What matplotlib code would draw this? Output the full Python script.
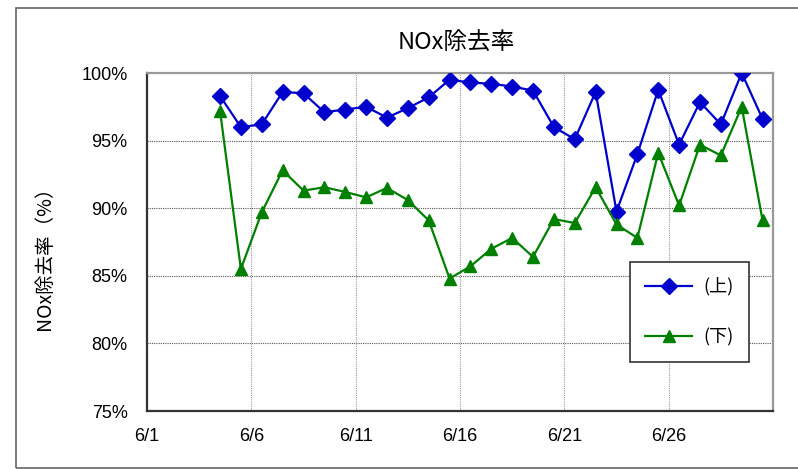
import matplotlib
matplotlib.use("Agg")
import matplotlib.pyplot as plt
from matplotlib.patches import Rectangle
from matplotlib.lines import Line2D

# ---- data ----
days = list(range(4, 31))  # June 4 .. June 30
upper = [98.3, 96.0, 96.2, 98.6, 98.5, 97.1, 97.3, 97.5, 96.7, 97.4, 98.2, 99.5,
         99.3, 99.2, 99.0, 98.7, 96.0, 95.1, 98.6, 89.75, 94.0, 98.75, 94.7, 97.85,
         96.2, 100.0, 96.6]
lower = [97.2, 85.5, 89.7, 92.8, 91.3, 91.55, 91.2, 90.8, 91.5, 90.6, 89.1, 84.8,
         85.7, 87.0, 87.8, 86.4, 89.2, 88.9, 91.55, 88.8, 87.8, 94.1, 90.2, 94.7,
         93.9, 97.5, 89.1]
xtick_labels = ["6/1", "6/6", "6/11", "6/16", "6/21", "6/26", ""]
ytick_vals = [75, 80, 85, 90, 95, 100]
series_names = ["(上)", "(下)"]

cjk = ["Noto Sans CJK JP", "DejaVu Sans"]
narrow = ["Liberation Sans Narrow", "Liberation Sans", "DejaVu Sans"]

W, H = 798, 469
fig = plt.figure(figsize=(W / 100, H / 100), dpi=100)
fig.patch.set_facecolor("white")

# outer chart border
fig.add_artist(Rectangle((16 / W, 1 - 468 / H), 1.0, (468 - 8) / H,
                         transform=fig.transFigure, fill=False,
                         edgecolor="#666666", linewidth=1.2))

L, R, T, B = 147, 773, 73, 411
ax = fig.add_axes([L / W, 1 - B / H, (R - L) / W, (B - T) / H])

xs = [d - 0.5 for d in days]
ax.plot(xs, upper, color="#0000CC", linewidth=1.6, marker="D", markersize=8,
        markerfacecolor="#0000CC", markeredgecolor="#0000CC", zorder=3)
ax.plot(xs, lower, color="#008000", linewidth=1.6, marker="^", markersize=9,
        markerfacecolor="#008000", markeredgecolor="#008000", zorder=3)

ax.set_xlim(0, 30)
ax.set_ylim(75, 100)
ax.set_xticks(range(0, 31, 5))
ax.set_xticklabels(xtick_labels, fontfamily=narrow, fontsize=13)
ax.set_yticks(ytick_vals)
ax.set_yticklabels([f"{v}%" for v in ytick_vals], fontfamily=narrow, fontsize=13)
ax.tick_params(axis="both", direction="in", length=0)
ax.tick_params(axis="y", pad=14)
ax.tick_params(axis="x", pad=12)

for v in ytick_vals[1:-1]:
    ax.axhline(v, color="#555555", linewidth=0.8, linestyle=(0, (1, 1)), zorder=1)
for x in range(5, 30, 5):
    ax.axvline(x, color="#999999", linewidth=0.8, linestyle=(0, (1, 1)), zorder=1)

ax.spines["left"].set_color("#333333")
ax.spines["left"].set_linewidth(1.6)
ax.spines["bottom"].set_color("#333333")
ax.spines["bottom"].set_linewidth(1.6)
ax.spines["top"].set_color("#999999")
ax.spines["top"].set_linewidth(1.6)
ax.spines["right"].set_color("#999999")
ax.spines["right"].set_linewidth(1.6)

fig.text(456 / W, 1 - 42 / H, "NOx除去率", ha="center", va="center",
         fontfamily=cjk, fontsize=17)
fig.text(45 / W, 1 - 253 / H, "NOx除去率（%）", ha="center", va="center",
         rotation=90, fontfamily=cjk, fontsize=14)

handles = [
    Line2D([], [], color="#0000CC", linewidth=1.6, marker="D", markersize=8),
    Line2D([], [], color="#008000", linewidth=1.6, marker="^", markersize=9),
]
leg = ax.legend(handles, series_names, loc="upper left",
                bbox_to_anchor=((630 - L) / (R - L), (B - 262) / (B - T)),
                frameon=True, fancybox=False, framealpha=1, edgecolor="#333333",
                prop={"family": cjk, "size": 13}, handlelength=2.6,
                labelspacing=1.8, borderpad=0.85, handletextpad=0.6,
                borderaxespad=0)
leg.get_frame().set_linewidth(1.2)

fig.savefig("out.png", dpi=100, facecolor="white")
